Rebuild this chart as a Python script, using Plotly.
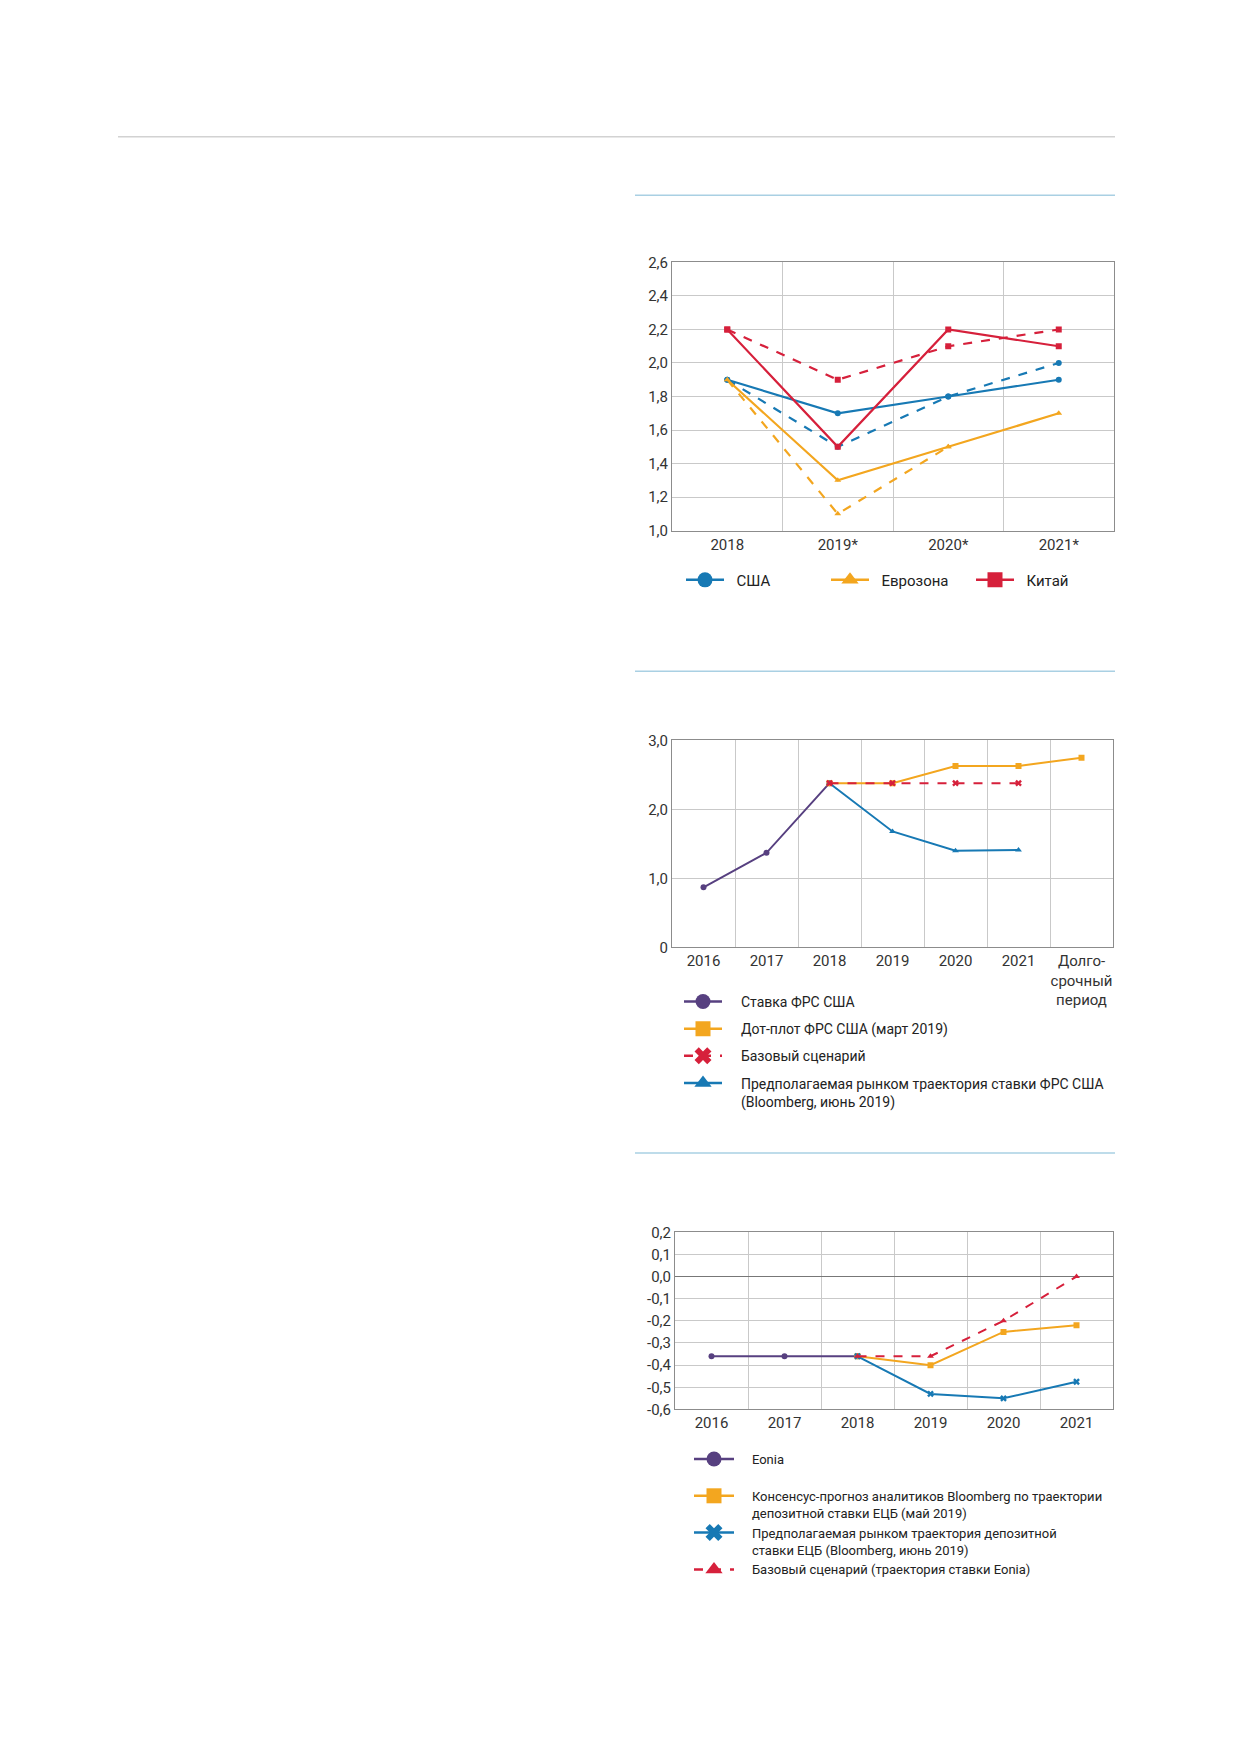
import plotly.graph_objects as go

PAGE_W, PAGE_H = 1239, 1752
OFF = 8  # default body margin of the html page
W, H = PAGE_W - 2 * OFF, PAGE_H - 2 * OFF
FONT = "Roboto, Liberation Sans, sans-serif"

BLUE = "#1779b4"
ORANGE = "#f3a61f"
RED = "#d6203b"
PURPLE = "#574080"
GRID = "#c9c9c9"
AXIS = "#8c8c8c"

# chart 1: growth forecasts
years1 = ["2018", "2019*", "2020*", "2021*"]
usa_now = [1.9, 1.7, 1.8, 1.9]
usa_prev = [1.9, 1.5, 1.8, 2.0]
ez_now = [1.9, 1.3, 1.5, 1.7]
ez_prev = [1.9, 1.1, 1.5, None]
cn_now = [2.2, 1.5, 2.2, 2.1]
cn_prev = [2.2, 1.9, 2.1, 2.2]
ticks1 = [1.0, 1.2, 1.4, 1.6, 1.8, 2.0, 2.2, 2.4, 2.6]
ticktext1 = ["1,0", "1,2", "1,4", "1,6", "1,8", "2,0", "2,2", "2,4", "2,6"]
names1 = ["США", "Еврозона", "Китай"]

# chart 2: fed rate
years2 = ["2016", "2017", "2018", "2019", "2020", "2021", "Долго-<br>срочный<br>период"]
fed_rate = [0.87, 1.37, 2.38, None, None, None, None]
dot_plot = [None, None, 2.38, 2.38, 2.63, 2.63, 2.75]
base_fed = [None, None, 2.38, 2.38, 2.38, 2.38, None]
market_fed = [None, None, 2.38, 1.68, 1.40, 1.41, None]
ticks2 = [0, 1, 2, 3]
ticktext2 = ["0", "1,0", "2,0", "3,0"]
names2 = [
    ["Ставка ФРС США"],
    ["Дот-плот ФРС США (март 2019)"],
    ["Базовый сценарий"],
    ["Предполагаемая рынком траектория ставки ФРС США", "(Bloomberg, июнь 2019)"],
]

# chart 3: ECB / Eonia
years3 = ["2016", "2017", "2018", "2019", "2020", "2021"]
eonia = [-0.36, -0.36, -0.36, None, None, None]
consensus = [None, None, -0.36, -0.40, -0.25, -0.22]
market_ecb = [None, None, -0.36, -0.53, -0.55, -0.475]
base_ecb = [None, None, -0.36, -0.36, -0.20, 0.0]
ticks3 = [-0.6, -0.5, -0.4, -0.3, -0.2, -0.1, 0.0, 0.1, 0.2]
ticktext3 = ["-0,6", "-0,5", "-0,4", "-0,3", "-0,2", "-0,1", "0,0", "0,1", "0,2"]
names3 = [
    ["Eonia", ""],
    ["Консенсус-прогноз аналитиков Bloomberg по траектории", "депозитной ставки ЕЦБ (май 2019)"],
    ["Предполагаемая рынком траектория депозитной", "ставки ЕЦБ (Bloomberg, июнь 2019)"],
    ["Базовый сценарий (траектория ставки Eonia)"],
]


# page pixel -> paper fraction
def fx(px):
    return (px - OFF) / W


def fy(py):
    return 1 - (py - OFF) / H


def px_x(a, b):
    return [fx(a), fx(b)]


def px_y(top, bottom):
    return [fy(bottom), fy(top)]


def label(lines, pad=4):
    sp = "\u00a0" * pad
    return "<br>".join(sp + s for s in lines)


fig = go.Figure()


def line(x, y, color, symbol, dash="solid", xa="x", ya="y", size=6, width=2):
    fig.add_trace(go.Scatter(
        x=x, y=y, mode="lines+markers", xaxis=xa, yaxis=ya, showlegend=False,
        line=dict(color=color, width=width, dash=dash),
        marker=dict(color=color, symbol=symbol, size=size),
        hoverinfo="skip", connectgaps=False,
    ))


def legend_entry(name, color, symbol, legend, xa, ya, dash="solid"):
    fig.add_trace(go.Scatter(
        x=[None], y=[None], mode="lines+markers", name=name, xaxis=xa, yaxis=ya,
        legend=legend, legendgroup=name,
        line=dict(color=color, width=2.5, dash=dash),
        marker=dict(color=color, symbol=symbol, size=15),
    ))


# chart 1
line(years1, usa_prev, BLUE, "circle", "dash", width=2.2)
line(years1, ez_prev, ORANGE, "triangle-up", "dash", width=2.2)
line(years1, cn_prev, RED, "square", "dash", width=2.2)
line(years1, usa_now, BLUE, "circle", width=2.2)
line(years1, ez_now, ORANGE, "triangle-up", width=2.2)
line(years1, cn_now, RED, "square", width=2.2)
legend_entry(label([names1[0]], 2), BLUE, "circle", "legend", "x", "y")
legend_entry(label([names1[1]], 2), ORANGE, "triangle-up", "legend", "x", "y")
legend_entry(label([names1[2]], 2), RED, "square", "legend", "x", "y")

# chart 2
line(years2, fed_rate, PURPLE, "circle", xa="x2", ya="y2")
line(years2, dot_plot, ORANGE, "square", xa="x2", ya="y2")
line(years2, market_fed, BLUE, "triangle-up", xa="x2", ya="y2")
line(years2, base_fed, RED, "x", "dash", xa="x2", ya="y2")
legend_entry(label(names2[0]), PURPLE, "circle", "legend2", "x2", "y2")
legend_entry(label(names2[1]), ORANGE, "square", "legend2", "x2", "y2")
legend_entry(label(names2[2]), RED, "x", "legend2", "x2", "y2", dash="dash")
legend_entry(label(names2[3]), BLUE, "triangle-up", "legend2", "x2", "y2")

# chart 3
line(years3, eonia, PURPLE, "circle", xa="x3", ya="y3")
line(years3, consensus, ORANGE, "square", xa="x3", ya="y3")
line(years3, market_ecb, BLUE, "x", xa="x3", ya="y3")
line(years3, base_ecb, RED, "triangle-up", "dash", xa="x3", ya="y3")
legend_entry(label(names3[0]), PURPLE, "circle", "legend3", "x3", "y3")
legend_entry(label(names3[1]), ORANGE, "square", "legend3", "x3", "y3")
legend_entry(label(names3[2]), BLUE, "x", "legend3", "x3", "y3")
legend_entry(label(names3[3]), RED, "triangle-up", "legend3", "x3", "y3", dash="dash")


def xaxis(domain, anchor, n):
    return dict(domain=domain, anchor=anchor, type="category", range=[-0.5, n - 0.5],
                tickson="boundaries", showgrid=True, gridcolor=GRID, gridwidth=1,
                showline=True, linecolor=AXIS, mirror=True, ticks="", ticklen=0,
                tickangle=0, tickfont=dict(size=15, color="#333"), fixedrange=True)


def yaxis(domain, anchor, rng, vals, text):
    return dict(domain=domain, anchor=anchor, range=rng, tickvals=vals, ticktext=text,
                showgrid=True, gridcolor=GRID, gridwidth=1, zeroline=False,
                showline=True, linecolor=AXIS, mirror=True, ticks="",
                tickfont=dict(size=15, color="#333"), fixedrange=True)


y3 = yaxis(px_y(1236, 1415), "x3", [-0.6, 0.2], ticks3, ticktext3)
y3.update(zeroline=True, zerolinecolor="#777", zerolinewidth=1)

shapes = [
    dict(type="line", xref="paper", yref="paper", x0=fx(118), x1=fx(1115), y0=fy(129), y1=fy(129),
         line=dict(color="#d2d2d2", width=1.5)),
]
for yy in [188, 669, 1156]:
    shapes.append(dict(type="line", xref="paper", yref="paper", x0=fx(635), x1=fx(1115),
                       y0=fy(yy), y1=fy(yy), line=dict(color="#a9d0e3", width=1.5)))

fig.update_layout(
    width=W, height=H, autosize=False,
    margin=dict(l=0, r=0, t=0, b=0),
    paper_bgcolor="white", plot_bgcolor="white",
    font=dict(family=FONT, size=14, color="#222"),
    xaxis=xaxis(px_x(672, 1114), "y", 4),
    yaxis=yaxis(px_y(256, 527), "x", [1.0, 2.6], ticks1, ticktext1),
    xaxis2=xaxis(px_x(672, 1113), "y2", 7),
    yaxis2=yaxis(px_y(739, 948), "x2", [0, 3], ticks2, ticktext2),
    xaxis3=xaxis(px_x(675, 1113), "y3", 6),
    yaxis3=y3,
    legend=dict(orientation="h", x=fx(681), y=fy(577), xanchor="left", yanchor="middle",
                itemwidth=38, entrywidth=92, font=dict(size=15), bgcolor="rgba(0,0,0,0)"),
    legend2=dict(orientation="v", x=fx(679), y=fy(987), xanchor="left", yanchor="top",
                 itemwidth=38, font=dict(size=14), valign="top", tracegroupgap=6,
                 traceorder="grouped", bgcolor="rgba(0,0,0,0)"),
    legend3=dict(orientation="v", x=fx(689), y=fy(1450), xanchor="left", yanchor="top",
                 itemwidth=40, font=dict(size=13), valign="top", tracegroupgap=0,
                 traceorder="grouped", bgcolor="rgba(0,0,0,0)"),
    shapes=shapes,
    hovermode=False,
)

fig.write_html("out.html")
